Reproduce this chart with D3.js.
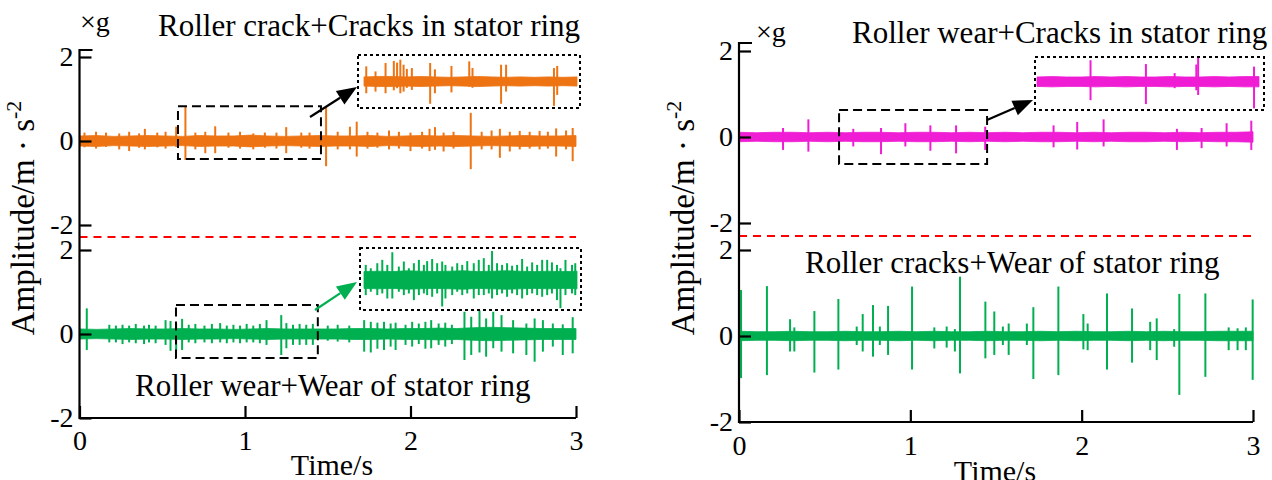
<!DOCTYPE html>
<html>
<head>
<meta charset="utf-8">
<script src="https://cdn.jsdelivr.net/npm/d3@7"></script>
<style>
  body { margin: 0; background: #fff; }
  svg { display: block; font-family: "Liberation Serif", "Times New Roman", serif; }
</style>
</head>
<body>
<svg id="chart" width="1272" height="480"></svg>
<script>
// ── DATA ──────────────────────────────────────────────────────────────────
const timeTicks = [0, 1, 2, 3];
const ampTicks  = [-2, 0, 2];

const titles = [
  'Roller crack+Cracks in stator ring',
  'Roller wear+Wear of stator ring',
  'Roller wear+Cracks in stator ring',
  'Roller cracks+Wear of stator ring'
];

// noise band half-width (g), evenly spread over the trace
const orangeBand   = [0.12,0.13,0.11,0.12,0.13,0.12,0.11,0.13,0.12,0.12,0.14,0.12,0.11,0.12,0.13,
                      0.12,0.12,0.13,0.11,0.12,0.13,0.12,0.13,0.12,0.11,0.12,0.13,0.12,0.12,0.13];
const orangeInBand = [0.11,0.12,0.12,0.11,0.12,0.11,0.10,0.11,0.12,0.11,0.10,0.11,0.10,0.11,0.10,0.11];
const greenLBand   = [0.12,0.11,0.12,0.13,0.12,0.12,0.13,0.12,0.12,0.11,0.12,0.13,0.12,0.12,0.12,
                      0.12,0.13,0.13,0.12,0.13,0.13,0.14,0.13,0.15,0.16,0.15,0.14,0.13,0.13,0.13];
const greenInBand  = [0.20,0.21,0.20,0.22,0.21,0.20,0.21,0.22,0.20,0.21,0.22,0.21,0.20,0.21,0.20,0.21];
const magentaBand  = [0.11,0.10,0.11,0.11,0.10,0.11,0.10,0.11,0.11,0.10,0.11,0.11,0.10,0.11,0.10,
                      0.11,0.10,0.11,0.11,0.10,0.11,0.10,0.11,0.11,0.10,0.11,0.10,0.11,0.11,0.12];
const magentaInBand= [0.11,0.12,0.11,0.11,0.12,0.11,0.12,0.11,0.11,0.12,0.11,0.11,0.12,0.11,0.12,0.12];
const greenRBand   = [0.11,0.10,0.10,0.11,0.10,0.10,0.11,0.10,0.10,0.11,0.10,0.11,0.10,0.10,0.11,
                      0.10,0.10,0.11,0.10,0.11,0.10,0.10,0.11,0.10,0.11,0.10,0.10,0.11,0.11,0.11];

// spikes: [time s, peak g, trough g]
const orangeSpikes = [
  [0.03,0.20,-0.15],[0.10,0.22,-0.18],[0.16,0.20,-0.14],[0.24,0.18,-0.20],[0.30,0.22,-0.24],
  [0.36,0.18,-0.16],[0.395,0.29,-0.20],[0.47,0.20,-0.15],[0.52,0.22,-0.18],[0.584,0.34,-0.14],
  [0.64,0.82,-0.45],[0.70,0.20,-0.20],[0.76,0.22,-0.29],[0.82,0.35,-0.29],[0.90,0.20,-0.16],
  [0.97,0.22,-0.18],[1.05,0.18,-0.20],[1.12,0.20,-0.16],[1.19,0.20,-0.18],[1.249,0.33,-0.29],
  [1.34,0.20,-0.16],[1.39,0.20,-0.18],[1.49,0.81,-0.60],[1.56,0.22,-0.20],[1.634,0.34,-0.20],
  [1.675,0.46,-0.37],[1.74,0.22,-0.18],[1.80,0.20,-0.16],[1.87,0.25,-0.20],[1.93,0.22,-0.18],
  [2.00,0.20,-0.24],[2.07,0.22,-0.18],[2.115,0.29,-0.24],[2.148,0.33,-0.21],[2.20,0.20,-0.25],
  [2.26,0.22,-0.18],[2.364,0.67,-0.67],[2.43,0.22,-0.20],[2.49,0.25,-0.20],[2.54,0.29,-0.40],
  [2.60,0.22,-0.25],[2.66,0.24,-0.20],[2.72,0.22,-0.18],[2.78,0.24,-0.20],[2.83,0.22,-0.18],
  [2.88,0.30,-0.37],[2.94,0.25,-0.20],[2.98,0.31,-0.48]
];
const orangeInSpikes = [
  [0.609,0.36,-0.28],[0.646,0.24,-0.24],[0.686,0.44,-0.28],[0.719,0.49,-0.21],[0.732,0.45,-0.16],
  [0.745,0.52,-0.28],[0.758,0.40,-0.24],[0.771,0.30,-0.15],[0.791,0.32,-0.20],[0.864,0.44,-0.53],
  [0.883,0.29,-0.28],[0.949,0.37,-0.26],[1.020,0.48,-0.12],[1.033,0.32,-0.15],[1.147,0.40,-0.53],
  [1.167,0.40,-0.24],[1.358,0.32,-0.58],[1.371,0.37,-0.32]
];
const greenLSpikes = [
  [0.044,0.61,-0.38],[0.18,0.22,-0.20],[0.22,0.20,-0.20],[0.26,0.22,-0.24],[0.30,0.20,-0.20],
  [0.34,0.24,-0.22],[0.39,0.20,-0.24],[0.42,0.22,-0.20],[0.46,0.20,-0.22],[0.52,0.33,-0.26],
  [0.55,0.31,-0.40],[0.584,0.25,-0.40],[0.62,0.36,-0.38],[0.66,0.22,-0.20],[0.70,0.24,-0.22],
  [0.755,0.20,-0.20],[0.80,0.24,-0.22],[0.85,0.26,-0.20],[0.89,0.20,-0.22],[0.93,0.22,-0.20],
  [0.97,0.20,-0.22],[1.01,0.24,-0.20],[1.05,0.20,-0.20],[1.09,0.24,-0.22],[1.13,0.33,-0.26],
  [1.219,0.45,-0.50],[1.25,0.26,-0.34],[1.29,0.22,-0.26],[1.33,0.24,-0.26],[1.37,0.22,-0.26],
  [1.41,0.24,-0.26],[1.50,0.20,-0.16],[1.56,0.22,-0.18],[1.63,0.20,-0.20],[1.72,0.33,-0.42],
  [1.76,0.29,-0.44],[1.80,0.27,-0.35],[1.84,0.29,-0.38],[1.88,0.25,-0.30],[1.91,0.27,-0.38],
  [1.97,0.22,-0.26],[2.01,0.29,-0.30],[2.05,0.25,-0.24],[2.09,0.29,-0.35],[2.125,0.33,-0.34],
  [2.17,0.25,-0.26],[2.21,0.27,-0.30],[2.25,0.22,-0.24],[2.326,0.53,-0.62],[2.367,0.41,-0.50],
  [2.417,0.56,-0.44],[2.457,0.37,-0.54],[2.50,0.53,-0.34],[2.55,0.45,-0.42],[2.62,0.33,-0.46],
  [2.70,0.25,-0.50],[2.75,0.37,-0.66],[2.80,0.33,-0.42],[2.86,0.25,-0.30],[2.92,0.23,-0.50],
  [2.98,0.40,-0.46]
];
const greenInSpikes = [
  [0.607,0.36,-0.36],[0.627,0.28,-0.28],[0.653,0.40,-0.36],[0.673,0.48,-0.32],[0.693,0.36,-0.44],
  [0.713,0.66,-0.44],[0.739,0.32,-0.28],[0.759,0.44,-0.36],[0.779,0.28,-0.32],[0.799,0.40,-0.48],
  [0.819,0.48,-0.36],[0.839,0.36,-0.32],[0.852,0.45,-0.36],[0.872,0.50,-0.40],[0.892,0.40,-0.32],
  [0.912,0.44,-0.63],[0.925,0.36,-0.44],[0.952,0.32,-0.36],[0.972,0.40,-0.28],[0.992,0.36,-0.36],
  [1.012,0.45,-0.32],[1.038,0.40,-0.44],[1.058,0.48,-0.36],[1.078,0.52,-0.36],[1.098,0.36,-0.32],
  [1.111,0.69,-0.44],[1.131,0.40,-0.36],[1.151,0.36,-0.32],[1.171,0.40,-0.40],[1.191,0.34,-0.32],
  [1.211,0.36,-0.36],[1.231,0.50,-0.44],[1.251,0.32,-0.36],[1.271,0.42,-0.32],[1.291,0.36,-0.36],
  [1.311,0.48,-0.40],[1.331,0.48,-0.36],[1.350,0.42,-0.32],[1.370,0.36,-0.48],[1.384,0.28,-0.67],
  [1.404,0.48,-0.36],[1.430,0.36,-0.32],[1.443,0.40,-0.36]
];
const magentaSpikes = [
  [0.257,0.21,-0.30],[0.405,0.41,-0.34],[0.667,0.19,-0.22],[0.829,0.21,-0.40],[0.971,0.32,-0.22],
  [1.117,0.27,-0.32],[1.267,0.27,-0.38],[1.437,0.24,-0.30],[1.836,0.27,-0.24],[1.974,0.35,-0.29],
  [2.128,0.41,-0.22],[2.556,0.19,-0.30],[2.700,0.21,-0.26],[2.846,0.32,-0.22],[2.990,0.38,-0.30]
];
const magentaInSpikes = [
  [0.805,0.50,-0.43],[1.017,0.41,-0.52],[1.127,0.20,-0.15],[1.210,0.40,-0.20],[1.217,0.56,-0.31],
  [1.431,0.35,-0.62]
];
const greenRSpikes = [
  [0.012,1.07,-0.98],[0.163,1.16,-0.91],[0.298,0.39,-0.36],[0.323,0.20,-0.36],[0.440,0.58,-0.85],
  [0.580,0.86,-0.78],[0.687,0.22,-0.21],[0.722,0.51,-0.36],[0.782,0.72,-0.48],[0.822,0.22,-0.21],
  [0.870,0.70,-0.44],[1.010,1.15,-0.78],[1.140,0.20,-0.29],[1.212,0.22,-0.27],[1.260,0.16,-0.36],
  [1.290,1.38,-0.87],[1.438,0.80,-0.52],[1.490,0.57,-0.44],[1.540,0.22,-0.21],[1.574,0.29,-0.44],
  [1.680,0.29,-0.21],[1.718,0.67,-1.00],[1.864,1.15,-0.91],[2.010,0.51,-0.31],[2.035,0.29,-0.33],
  [2.148,0.99,-0.78],[2.294,0.64,-0.62],[2.400,0.33,-0.33],[2.438,0.41,-0.56],[2.540,0.16,-0.25],
  [2.570,0.98,-1.37],[2.722,0.99,-0.95],[2.858,0.20,-0.33],[2.910,0.18,-0.33],[2.958,0.20,-0.33],
  [2.998,0.85,-1.02]
];

// ── LAYOUT ────────────────────────────────────────────────────────────────
const ORANGE = '#ee7313', GREEN = '#00b050', MAGENTA = '#ef1dd4';
const svg = d3.select('#chart');

const panels = [
  {
    x0: 79.5, x1: 576, unit: 42, topZero: 141, botZero: 334, axisTop: 50, red: 237,
    top: { band: orangeBand, spikes: orangeSpikes, color: ORANGE,
           box: [0.595, 1.459, -0.43, 0.83],
           inset: { band: orangeInBand, spikes: orangeInSpikes, x: [364, 577], zero: 81.5, frame: [358, 55, 580, 108] },
           arrow: [310, 117, 357, 87], arrowColor: '#000' },
    bot: { band: greenLBand, spikes: greenLSpikes, color: GREEN,
           box: [0.583, 1.44, -0.57, 0.69],
           inset: { band: greenInBand, spikes: greenInSpikes, x: [364, 577], zero: 280, frame: [360, 248, 581, 310] },
           arrow: [315, 310, 357, 282], arrowColor: GREEN },
    title: { text: titles[0], x: 158, y: 36 },
    label: { text: titles[1], x: 135, y: 396 },
    xg: { x: 80, y: 31 },
    ylab: { x: 34, y: 218 },
    xlab: { x: 332, y: 475 },
    xTickDy: 12
  },
  {
    x0: 739, x1: 1253, unit: 43, topZero: 137, botZero: 336, axisTop: 43, red: 236,
    top: { band: magentaBand, spikes: magentaSpikes, color: MAGENTA,
           box: [0.584, 1.448, -0.63, 0.63],
           inset: { band: magentaInBand, spikes: magentaInSpikes, x: [1037, 1259], zero: 81.7, frame: [1035, 57, 1264, 110] },
           arrow: [987, 120, 1033, 100], arrowColor: '#000' },
    bot: { band: greenRBand, spikes: greenRSpikes, color: GREEN },
    title: { text: titles[2], x: 852, y: 43 },
    label: { text: titles[3], x: 805, y: 273 },
    xg: { x: 756, y: 41 },
    ylab: { x: 694, y: 218 },
    xlab: { x: 995, y: 481 },
    xTickDy: 13
  }
];

function drawTrace(g, x, y, t0, t1, band, spikes, color) {
  const bt = band.map((_, i) => t0 + i * (t1 - t0) / (band.length - 1));
  g.append('path').datum(band)
    .attr('d', d3.area().x((d, i) => x(bt[i])).y0(d => y(-d)).y1(d => y(d)))
    .attr('fill', color).attr('stroke', color).attr('stroke-width', 0.8);
  g.selectAll(null).data(spikes).join('line')
    .attr('x1', d => x(d[0])).attr('x2', d => x(d[0]))
    .attr('y1', d => y(d[1])).attr('y2', d => y(d[2]))
    .attr('stroke', color).attr('stroke-width', 2);
}

function arrow(g, a, color) {
  const [xa, ya, xb, yb] = a;
  const ang = Math.atan2(yb - ya, xb - xa), L = 20, W = 8;
  const bx = xb - L * Math.cos(ang), by = yb - L * Math.sin(ang);
  g.append('line').attr('x1', xa).attr('y1', ya).attr('x2', bx).attr('y2', by)
    .attr('stroke', color).attr('stroke-width', 2.2);
  g.append('path')
    .attr('d', `M${xb},${yb}L${bx - W * Math.sin(ang)},${by + W * Math.cos(ang)}L${bx + W * Math.sin(ang)},${by - W * Math.cos(ang)}Z`)
    .attr('fill', color);
}

panels.forEach(p => {
  const g = svg.append('g');
  const x = d3.scaleLinear([0, 3], [p.x0, p.x1]);
  const yTop = d3.scaleLinear([-1, 1], [p.topZero + p.unit, p.topZero - p.unit]);
  const yBot = d3.scaleLinear([-1, 1], [p.botZero + p.unit, p.botZero - p.unit]);
  const axisBottom = yBot(-2);

  // traces
  drawTrace(g, x, yTop, 0, 3, p.top.band, p.top.spikes, p.top.color);
  drawTrace(g, x, yBot, 0, 3, p.bot.band, p.bot.spikes, p.bot.color);

  // zoom boxes + insets
  [[p.top, yTop], [p.bot, yBot]].forEach(([s, y]) => {
    if (!s.inset) return;
    const [ta, tb, va, vb] = s.box;
    g.append('rect')
      .attr('x', x(ta)).attr('y', y(vb)).attr('width', x(tb) - x(ta)).attr('height', y(va) - y(vb))
      .attr('fill', 'none').attr('stroke', '#000').attr('stroke-width', 2).attr('stroke-dasharray', '9,5');
    const ins = s.inset;
    const xi = d3.scaleLinear([0.6, 1.45], ins.x);
    const yi = d3.scaleLinear([-1, 1], [ins.zero + p.unit, ins.zero - p.unit]);
    drawTrace(g, xi, yi, 0.6, 1.45, ins.band, ins.spikes, s.color);
    const [fx0, fy0, fx1, fy1] = ins.frame;
    g.append('rect')
      .attr('x', fx0).attr('y', fy0).attr('width', fx1 - fx0).attr('height', fy1 - fy0)
      .attr('fill', 'none').attr('stroke', '#000').attr('stroke-width', 2).attr('stroke-dasharray', '3,3');
    arrow(g, s.arrow, s.arrowColor);
  });

  // red separator
  g.append('line').attr('x1', p.x0).attr('x2', p.x1).attr('y1', p.red).attr('y2', p.red)
    .attr('stroke', '#ff0000').attr('stroke-width', 1.8).attr('stroke-dasharray', '8,6');

  // axes
  g.append('path')
    .attr('d', `M${p.x0 + 13},${p.axisTop}H${p.x0}V${axisBottom}H${p.x1}`)
    .attr('fill', 'none').attr('stroke', '#000').attr('stroke-width', 2.2);

  [yTop, yBot].forEach(y => {
    const yy = d3.scaleLinear([-2, 2], [y(-2), y(2)]);
    const ax = g.append('g').attr('transform', `translate(${p.x0},0)`)
      .call(d3.axisLeft(yy).tickValues(ampTicks).tickSize(-12).tickPadding(6).tickFormat(d => String(d)));
    ax.select('.domain').remove();
    ax.selectAll('line').attr('stroke-width', 2.2);
    ax.selectAll('text').attr('font-size', 28).attr('font-family', 'Liberation Serif').attr('fill', '#000');
  });

  const axX = g.append('g').attr('transform', `translate(0,${axisBottom})`)
    .call(d3.axisBottom(x).tickValues(timeTicks).tickSize(-12).tickPadding(p.xTickDy).tickFormat(d => String(d)));
  axX.select('.domain').remove();
  axX.selectAll('line').attr('stroke-width', 2.2);
  axX.selectAll('text').attr('font-size', 28).attr('font-family', 'Liberation Serif').attr('fill', '#000');

  // texts
  g.append('text').attr('x', p.title.x).attr('y', p.title.y).attr('font-size', 31).text(p.title.text);
  g.append('text').attr('x', p.label.x).attr('y', p.label.y).attr('font-size', 31).text(p.label.text);
  g.append('text').attr('x', p.xg.x).attr('y', p.xg.y).attr('font-size', 28).text('×g');
  g.append('text').attr('x', p.xlab.x).attr('y', p.xlab.y).attr('font-size', 30)
    .attr('text-anchor', 'middle').text('Time/s');
  const yl = g.append('text')
    .attr('transform', `translate(${p.ylab.x},${p.ylab.y}) rotate(-90)`)
    .attr('text-anchor', 'middle').attr('font-size', 33);
  yl.append('tspan').text('Amplitude/m · s');
  yl.append('tspan').attr('font-size', 22).attr('dy', -13).text('-2');
});
</script>
</body>
</html>
